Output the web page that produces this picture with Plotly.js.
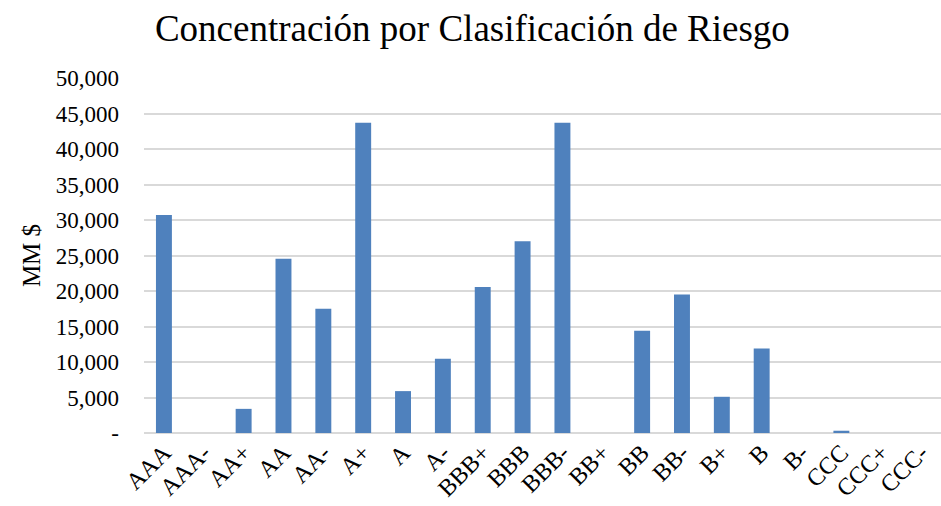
<!DOCTYPE html>
<html>
<head>
<meta charset="utf-8">
<script src="https://cdn.plot.ly/plotly-3.0.1.min.js"></script>
<style>html,body{margin:0;padding:0;background:#fff}#chart{width:941px;height:506px}</style>
</head>
<body>
<div id="chart"></div>
<script>
const categories = ["AAA","AAA-","AA+","AA","AA-","A+","A","A-","BBB+","BBB","BBB-","BB+","BB","BB-","B+","B","B-","CCC","CCC+","CCC-"];
const values = [30700, 0, 3400, 24550, 17500, 43700, 5900, 10450, 20550, 27000, 43700, 0, 14400, 19500, 5100, 11900, 0, 320, 0, 0];
const yTickVals = [0,5000,10000,15000,20000,25000,30000,35000,40000,45000,50000];
const yTickText = ["-","5,000","10,000","15,000","20,000","25,000","30,000","35,000","40,000","45,000","50,000"];

const font = "Liberation Serif, Times New Roman, serif";
Plotly.newPlot("chart", [{
  type: "bar",
  x: categories,
  y: values,
  marker: {color: "#4f81bd"},
  hoverinfo: "x+y"
}], {
  width: 941, height: 506,
  margin: {l: 144, r: 0, t: 78, b: 73},
  paper_bgcolor: "#fff", plot_bgcolor: "#fff",
  bargap: 0.6,
  title: {text: "Concentración por Clasificación de Riesgo", font: {family: font, size: 37, color: "#000"}, x: 0.502, xanchor: "center", y: 0.945, yanchor: "middle"},
  xaxis: {
    type: "category",
    tickangle: -45,
    tickfont: {family: font, size: 24, color: "#000"},
    showgrid: false, showline: false, ticks: "", zeroline: false
  },
  yaxis: {
    range: [0, 50000],
    tickvals: yTickVals, ticktext: yTickText,
    tickfont: {family: font, size: 23, color: "#000"},
    showgrid: true, gridcolor: "#d9d9d9", gridwidth: 1.5,
    zeroline: true, zerolinecolor: "#d9d9d9", zerolinewidth: 1.5,
    ticks: "", ticklabelstandoff: 24,
    title: {text: "MM $", font: {family: font, size: 25, color: "#000"}, standoff: 8}
  },
  showlegend: false
}, {displayModeBar: false});
</script>
</body>
</html>
